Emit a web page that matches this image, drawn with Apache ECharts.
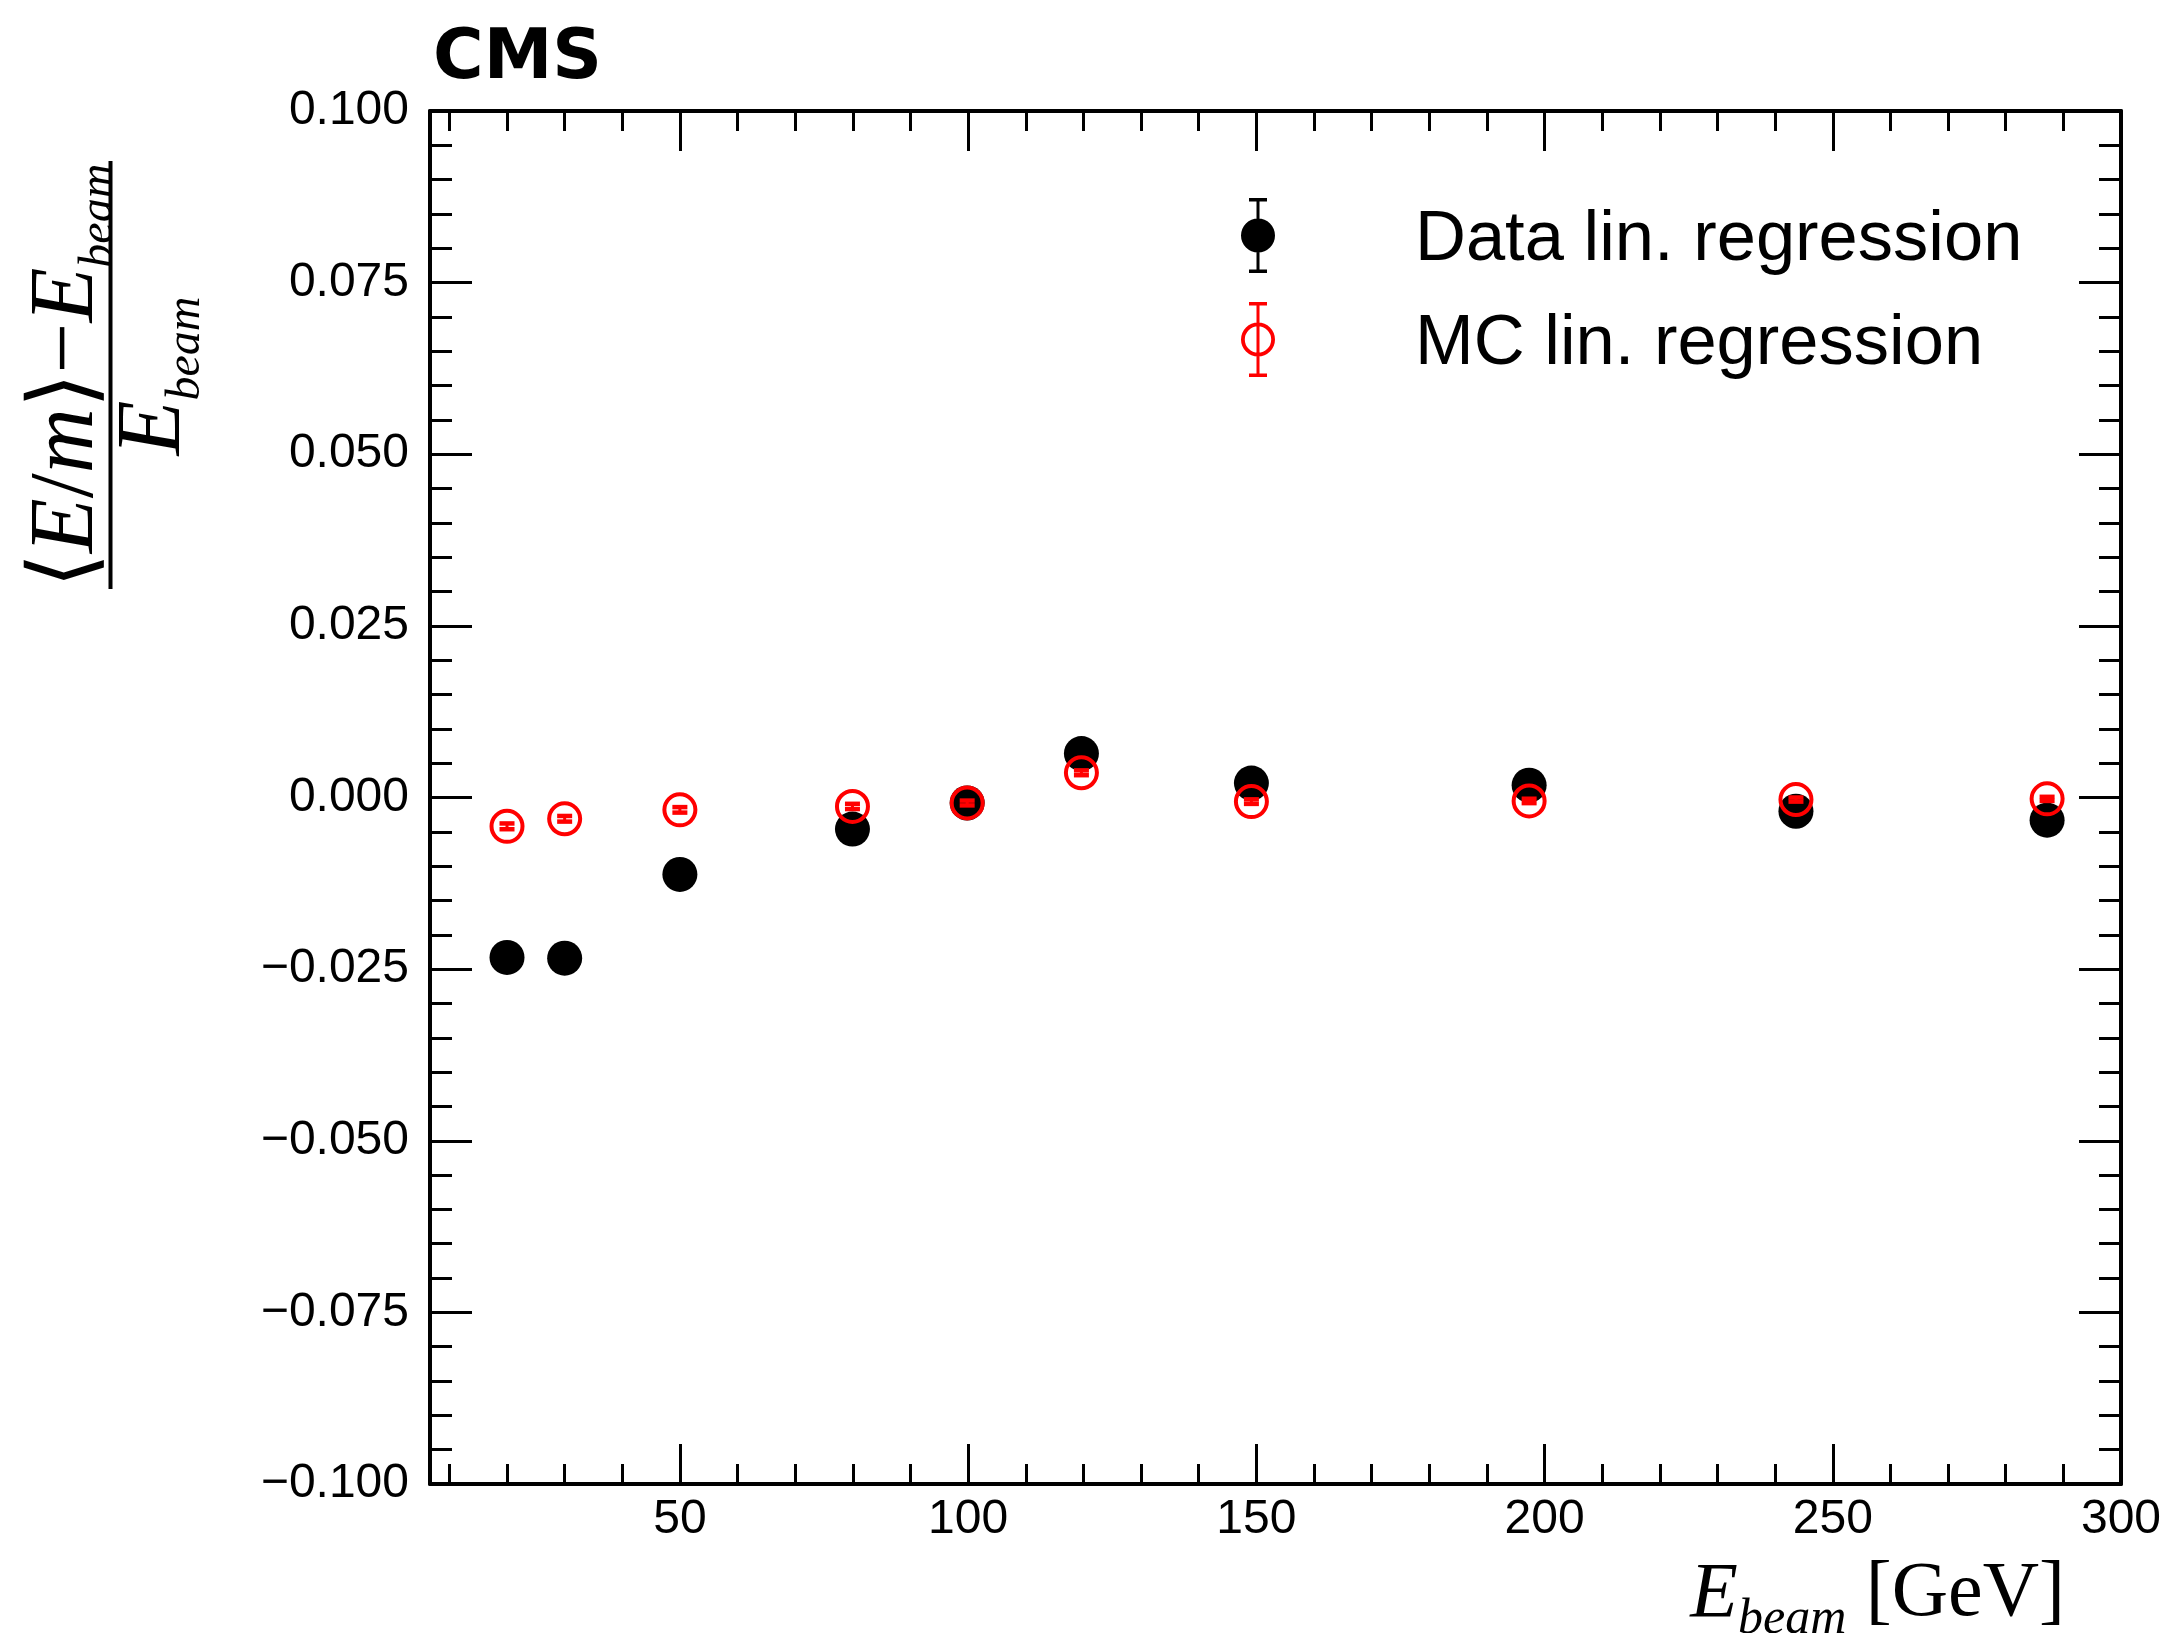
<!DOCTYPE html>
<html><head><meta charset="utf-8">
<script src="https://cdn.jsdelivr.net/npm/echarts@6/dist/echarts.min.js"></script>
<style>html,body{margin:0;padding:0;background:#fff}#c{width:2170px;height:1633px}</style>
</head><body><div id="c"></div>
<script>
// ---- data ----
const beamEnergy = [20.0, 30.0, 49.99, 79.93, 99.83, 119.65, 149.14, 197.32, 243.61, 287.18];
const dataMean   = [-0.0233, -0.0234, -0.0112, -0.0046, -0.0008, 0.0064, 0.0021, 0.0018, -0.0020, -0.0033];
const dataErr    = [0.0017, 0.0016, 0.0015, 0.0016, 0.0017, 0.0017, 0.0018, 0.0017, 0.0016, 0.0019];
const mcMean     = [-0.0042, -0.0031, -0.0018, -0.0013, -0.0008, 0.0036, -0.0006, -0.0005, -0.0003, -0.0002];
const mcErr      = [0.00042, 0.00041, 0.0004, 0.00038, 0.00035, 0.00035, 0.00033, 0.00032, 0.0003, 0.0003];
const xMajorLabels = [50, 100, 150, 200, 250, 300];
const seriesNames = ['Data lin. regression', 'MC lin. regression'];

const X_MIN = 6.64, X_MAX = 300;
const SANS = 'Liberation Sans';
const SERIF = 'Liberation Serif';

const dataPts = beamEnergy.map((x, i) => [x, dataMean[i]]);
const mcPts = beamEnergy.map((x, i) => [x, mcMean[i]]);
const dataBars = beamEnergy.map((x, i) => [x, dataMean[i] - dataErr[i], dataMean[i] + dataErr[i]]);
const mcBars = beamEnergy.map((x, i) => [x, mcMean[i] - mcErr[i], mcMean[i] + mcErr[i]]);

function errorBarRender(color, capHalf, lw, capLw) {
  return function (params, api) {
    const x = api.value(0);
    const pLo = api.coord([x, api.value(1)]);
    const pHi = api.coord([x, api.value(2)]);
    const style = { stroke: color, lineWidth: lw, fill: null };
    const capStyle = { stroke: color, lineWidth: capLw, fill: null };
    return {
      type: 'group',
      children: [
        { type: 'line', shape: { x1: pLo[0], y1: pLo[1], x2: pHi[0], y2: pHi[1] }, style: style },
        { type: 'line', shape: { x1: pLo[0] - capHalf, y1: pLo[1], x2: pLo[0] + capHalf, y2: pLo[1] }, style: capStyle },
        { type: 'line', shape: { x1: pHi[0] - capHalf, y1: pHi[1], x2: pHi[0] + capHalf, y2: pHi[1] }, style: capStyle }
      ]
    };
  };
}

const xLabelFmt = v => {
  for (const t of xMajorLabels) if (Math.abs(v - t) < 1e-6) return String(t);
  return '';
};
const yLabelFmt = v => {
  if (Math.abs(v) < 1e-9) return '0.000';
  return (v < 0 ? '\u2212' : '') + Math.abs(v).toFixed(3);
};

function xAxisDef(pos, major) {
  return {
    type: 'value', position: pos, min: X_MIN, max: X_MAX,
    splitNumber: major ? 5 : 29,
    axisLine: { show: major, onZero: false, lineStyle: { color: '#000', width: 4 } },
    axisTick: { show: true, inside: true, length: major ? 40 : 20, lineStyle: { color: '#000', width: 3 } },
    axisLabel: { show: major && pos === 'bottom', formatter: xLabelFmt, color: '#000', fontFamily: SANS, fontSize: 48, margin: 12 },
    splitLine: { show: false }
  };
}
function yAxisDef(pos) {
  return {
    type: 'value', position: pos, min: -0.1, max: 0.1, interval: 0.025,
    axisLine: { show: true, onZero: false, lineStyle: { color: '#000', width: 4 } },
    axisTick: { show: true, inside: true, length: 42, lineStyle: { color: '#000', width: 3 } },
    minorTick: { show: true, splitNumber: 5, length: 22, lineStyle: { color: '#000', width: 3 } },
    axisLabel: { show: pos === 'left', formatter: yLabelFmt, color: '#000', fontFamily: SANS, fontSize: 48, margin: 21 },
    splitLine: { show: false }
  };
}

const dataIcon = 'path://M0,37.5A17,17,0,1,1,34,37.5A17,17,0,1,1,0,37.5Z M15.5,0H18.5V75H15.5Z M8,0H26V3.5H8Z M8,71.5H26V75H8Z';
const mcIcon = 'path://M0,37.5A17,17,0,1,1,34,37.5A17,17,0,1,1,0,37.5Z M3.8,37.5A13.2,13.2,0,1,0,30.2,37.5A13.2,13.2,0,1,0,3.8,37.5Z M15.5,0H18.5V75H15.5Z M8,0H26V3.5H8Z M8,71.5H26V75H8Z';

const mainT = { fontFamily: SERIF, fontSize: 90, lineHeight: 110, verticalAlign: 'middle', color: '#000' };
const itT = Object.assign({}, mainT, { fontStyle: 'italic' });
const subT = { fontFamily: SERIF, fontSize: 48, lineHeight: 48, fontStyle: 'italic', verticalAlign: 'bottom', color: '#000' };

const option = {
  animation: false,
  backgroundColor: '#fff',
  grid: { left: 430, right: 49, top: 111, bottom: 149, containLabel: false },
  xAxis: [xAxisDef('bottom', true), xAxisDef('bottom', false), xAxisDef('top', true), xAxisDef('top', false)],
  yAxis: [yAxisDef('left'), yAxisDef('right')],
  legend: {
    orient: 'vertical', left: 1241, top: 195, padding: 0,
    itemWidth: 34, itemHeight: 75, itemGap: 23,
    formatter: name => '{t|' + name + '}',
    textStyle: { fontFamily: SANS, fontSize: 70.5, color: '#000', padding: [0, 0, 0, 135],
      rich: { t: { fontFamily: SANS, fontSize: 70.5, color: '#000', lineHeight: 80, padding: [10, 0, 0, 0] } } },
    data: [
      { name: seriesNames[0], icon: dataIcon, itemStyle: { color: '#000', borderWidth: 0 } },
      { name: seriesNames[1], icon: mcIcon, itemStyle: { color: '#ff0000', borderWidth: 0 } }
    ]
  },
  series: [
    { name: seriesNames[0], type: 'scatter', xAxisIndex: 0, yAxisIndex: 0, data: dataPts,
      symbol: 'circle', symbolSize: 35, itemStyle: { color: '#000', opacity: 1 }, z: 2 },
    { name: 'dataErr', type: 'custom', xAxisIndex: 0, yAxisIndex: 0, data: dataBars,
      encode: { x: 0, y: [1, 2] }, renderItem: errorBarRender('#000', 8.5, 3, 3), z: 3 },
    { name: seriesNames[1], type: 'scatter', xAxisIndex: 0, yAxisIndex: 0, data: mcPts,
      symbol: 'circle', symbolSize: 31,
      itemStyle: { color: 'rgba(255,255,255,0)', borderColor: '#ff0000', borderWidth: 4, opacity: 1 }, z: 4 },
    { name: 'mcErr', type: 'custom', xAxisIndex: 0, yAxisIndex: 0, data: mcBars,
      encode: { x: 0, y: [1, 2] }, renderItem: errorBarRender('#ff0000', 7.5, 3, 4.5), z: 5 }
  ],
  graphic: [
    { type: 'text', left: 433, top: 26,
      style: { text: 'CMS', fontFamily: 'DejaVu Sans', fontWeight: 'bold', fontSize: 69, fill: '#000' } },
    { type: 'text', x: 68, y: 376, rotation: Math.PI / 2,
      style: { text: '{u|\u27E8}{i|E}{u|/}{i|m}{u|\u27E9\u2212}{i|E}{s|beam}', align: 'center', verticalAlign: 'middle',
        rich: { u: mainT, i: itT, s: subT } } },
    { type: 'line', shape: { x1: 110.5, y1: 161, x2: 110.5, y2: 589 }, style: { stroke: '#000', lineWidth: 4 } },
    { type: 'text', x: 155, y: 376, rotation: Math.PI / 2,
      style: { text: '{i|E}{s|beam}', align: 'center', verticalAlign: 'middle',
        rich: { i: itT, s: subT } } },
    { type: 'text', x: 2065, y: 1595,
      style: { text: '{i|E}{s|beam}{u| [GeV]}', align: 'right', verticalAlign: 'middle',
        rich: { i: Object.assign({}, itT, { fontSize: 78, lineHeight: 100 }), s: Object.assign({}, subT, { fontSize: 50, lineHeight: 50 }), u: Object.assign({}, mainT, { fontSize: 78, lineHeight: 100 }) } } }
  ]
};

const chart = echarts.init(document.getElementById('c'), null, { renderer: 'canvas' });
chart.setOption(option);
</script>
</body></html>
